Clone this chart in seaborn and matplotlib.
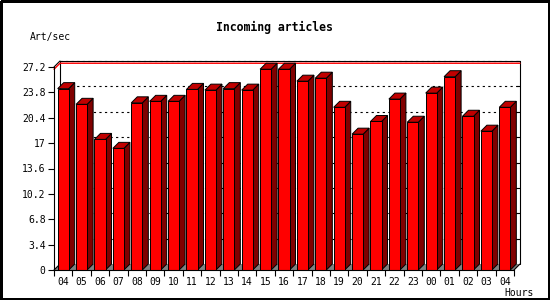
import numpy as np
import pandas as pd
import matplotlib
matplotlib.use("Agg")
import matplotlib.pyplot as plt
from matplotlib.patches import Polygon, Rectangle
from matplotlib.lines import Line2D
import seaborn as sns

# ---- data ----
hours = ["04", "05", "06", "07", "08", "09", "10", "11", "12", "13", "14", "15",
         "16", "17", "18", "19", "20", "21", "22", "23", "00", "01", "02", "03", "04 "]
rates = [24.3, 22.2, 17.5, 16.3, 22.4, 22.6, 22.6, 24.2, 24.1, 24.3, 24.1, 26.9,
         26.9, 25.3, 25.7, 21.8, 18.2, 19.9, 22.9, 19.8, 23.7, 25.9, 20.6, 18.6, 21.8]
ytick_vals = [0, 3.4, 6.8, 10.2, 13.6, 17, 20.4, 23.8, 27.2]
ytick_labels = ["0", "3.4", "6.8", "10.2", "13.6", "17", "20.4", "23.8", "27.2"]
title = "Incoming articles"
ylabel = "Art/sec"
xlabel = "Hours"

sns.set_theme(style="white")
plt.rcParams["font.family"] = ["DejaVu Sans Mono", "DejaVu Sans"]

W, H = 550, 300
fig = plt.figure(figsize=(W / 100, H / 100), dpi=100)
fig.patch.set_facecolor("white")
ax = fig.add_axes([54 / W, 30 / H, 460 / W, 203 / H])
ax.set_facecolor("none")

df = pd.DataFrame({"hour": hours, "rate": rates})
sns.barplot(data=df, x="hour", y="rate", color="#ff0000", saturation=1,
            width=0.6, edgecolor="black", linewidth=0.7, ax=ax, zorder=5)

n = len(hours)
ax.set_xlim(-0.5, n - 0.5)
ax.set_ylim(0, ytick_vals[-1])

# depth in data units (6 px)
t0 = ax.transData.transform((0, 0))
t1 = ax.transData.transform((1, 1))
ddx = 6 / (t1[0] - t0[0])
ddy = 6 / (t1[1] - t0[1])

x0, x1 = ax.get_xlim()
ymax = ax.get_ylim()[1]

# floor
ax.add_patch(Polygon([(x0, 0), (x1, 0), (x1 + ddx, ddy), (x0 + ddx, ddy)],
                     closed=True, facecolor="#808080", edgecolor="none",
                     zorder=1, clip_on=False))
# back wall gridlines (dotted)
for v in ytick_vals[1:]:
    ax.plot([x0 + ddx, x1 + ddx], [v + ddy, v + ddy], color="black",
            linestyle=(0, (2, 3)), linewidth=0.8, zorder=2, clip_on=False)
    ax.plot([x1 + ddx - 0.15, x1 + ddx], [v + ddy, v + ddy], color="black",
            linewidth=0.8, zorder=2, clip_on=False)
# back wall frame
ax.plot([x0 + ddx, x0 + ddx, x1 + ddx, x1 + ddx],
        [ddy, ymax + ddy, ymax + ddy, ddy], color="black", linewidth=0.8,
        zorder=3, clip_on=False)
ax.plot([x0, x0 + ddx], [ymax, ymax + ddy], color="black", linewidth=0.8,
        zorder=3, clip_on=False)
ax.plot([x0, x0 + ddx], [0, ddy], color="black", linewidth=0.8,
        zorder=3, clip_on=False)
ax.plot([x1, x1 + ddx], [0, ddy], color="black", linewidth=0.8,
        zorder=3, clip_on=False)
# max line
mx = max(rates)
ax.plot([x0, x0 + ddx, x1 + ddx], [mx, mx + ddy, mx + ddy], color="#ff0000",
        linewidth=1.0, zorder=4, clip_on=False)

# 3D sides and tops
for p in list(ax.patches):
    if not isinstance(p, Rectangle):
        continue
    bx, bw, bh = p.get_x(), p.get_width(), p.get_height()
    if bh <= 0:
        continue
    side = Polygon([(bx + bw, 0), (bx + bw + ddx, ddy), (bx + bw + ddx, bh + ddy),
                    (bx + bw, bh)], closed=True, facecolor="#800000",
                   edgecolor="black", linewidth=0.7, zorder=5, clip_on=False)
    top = Polygon([(bx, bh), (bx + bw, bh), (bx + bw + ddx, bh + ddy),
                   (bx + ddx, bh + ddy)], closed=True, facecolor="#c00000",
                  edgecolor="black", linewidth=0.7, zorder=5, clip_on=False)
    ax.add_patch(side)
    ax.add_patch(top)
    p.set_zorder(6)

# spines
for s in ["top", "right"]:
    ax.spines[s].set_visible(False)
for s in ["left", "bottom"]:
    ax.spines[s].set_color("black")
    ax.spines[s].set_linewidth(0.8)
    ax.spines[s].set_zorder(7)

ax.set_yticks(ytick_vals)
ax.set_yticklabels(ytick_labels)
ax.set_xticks(range(n))
ax.set_xticklabels([h.strip() for h in hours])
ax.set_xticks(np.arange(-0.5, n, 1.0), minor=True)
ax.tick_params(axis="x", which="major", length=0, pad=5, labelsize=7, colors="black")
ax.tick_params(axis="x", which="minor", length=4, width=0.8, color="black", bottom=True)
ax.tick_params(axis="y", which="major", length=4, width=0.8, color="black",
               left=True, pad=2, labelsize=7, labelcolor="black")
ax.set_xlabel("")
ax.set_ylabel("")

fig.text(274 / W, 1 - 27 / H, title, ha="center", va="center",
         fontsize=8.3, fontweight="bold", color="black")
fig.text(30 / W, 1 - 37 / H, ylabel, ha="left", va="center", fontsize=7, color="black")
fig.text(534 / W, 1 - 293 / H, xlabel, ha="right", va="center", fontsize=7, color="black")

# outer 1px border
bx0, by0 = 0.6 / W, 0.6 / H
bx1, by1 = 1 - 0.6 / W, 1 - 0.6 / H
fig.add_artist(Line2D([bx0, bx1, bx1, bx0, bx0], [by0, by0, by1, by1, by0],
                      transform=fig.transFigure, color="black", linewidth=1.0,
                      antialiased=False))

fig.savefig("out.png", dpi=100)
